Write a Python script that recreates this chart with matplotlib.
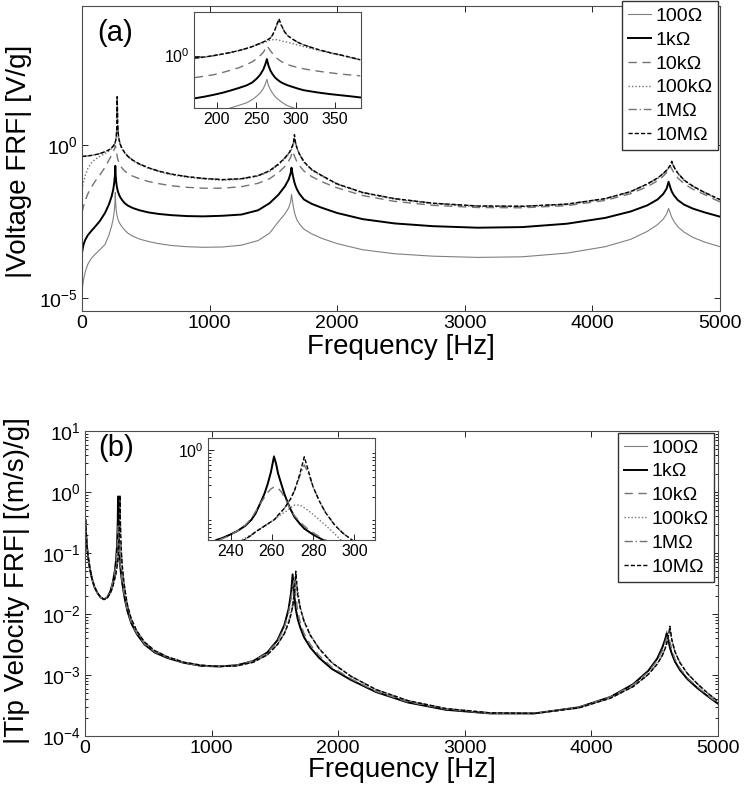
import numpy as np
import matplotlib
matplotlib.use('Agg')
import matplotlib.pyplot as plt
from matplotlib.ticker import LogLocator, NullLocator, NullFormatter, FixedLocator

plt.rcParams['font.family'] = ['Liberation Sans', 'DejaVu Sans']
plt.rcParams['mathtext.fontset'] = 'custom'
plt.rcParams['mathtext.rm'] = 'Liberation Sans'
plt.rcParams['mathtext.it'] = 'Liberation Sans:italic'

labels = ['100\u03a9', '1k\u03a9', '10k\u03a9', '100k\u03a9', '1M\u03a9', '10M\u03a9']

# ---- (a) voltage FRF, log10|V/g| ----
freq_a = [1, 5, 12, 25, 45, 70, 100, 140, 180, 210,
          232, 245, 253, 258, 261, 264, 268, 272, 276, 280,
          285, 292, 302, 315, 335, 360, 400, 450, 520, 600,
          700, 820, 950, 1100, 1250, 1380, 1470, 1540, 1590, 1620,
          1635, 1642, 1650, 1658, 1665, 1672, 1685, 1705, 1740, 1800,
          1880, 2000, 2200, 2450, 2750, 3100, 3450, 3800, 4100, 4300,
          4430, 4510, 4555, 4582, 4597, 4610, 4622, 4640, 4670, 4720,
          4790, 4880, 5000]
volt_100 = [-4.8, -4.6, -4.4, -4.15, -3.9, -3.72, -3.58, -3.42, -3.25, -2.95,
            -2.65, -2.4, -2.15, -1.9, -1.55, -1.9, -2.12, -2.25, -2.33, -2.4,
            -2.46, -2.53, -2.6, -2.68, -2.78, -2.88, -2.98, -3.07, -3.15, -3.22,
            -3.28, -3.32, -3.34, -3.33, -3.27, -3.12, -2.88, -2.5, -2.25, -2.05,
            -1.85, -1.61, -1.85, -2.05, -2.2, -2.3, -2.45, -2.58, -2.75, -2.9,
            -3.05, -3.22, -3.42, -3.55, -3.63, -3.67, -3.65, -3.53, -3.32, -3.08,
            -2.82, -2.6, -2.42, -2.25, -2.07, -2.22, -2.36, -2.5, -2.67, -2.85,
            -3.02, -3.17, -3.32]
volt_1k = [-3.5, -3.4, -3.25, -3.1, -2.95, -2.82, -2.68, -2.48, -2.22, -1.95,
           -1.68, -1.45, -1.22, -0.98, -0.68, -0.98, -1.2, -1.33, -1.42, -1.5,
           -1.56, -1.64, -1.72, -1.8, -1.9, -1.98, -2.06, -2.13, -2.2, -2.25,
           -2.29, -2.32, -2.33, -2.31, -2.27, -2.13, -1.9, -1.62, -1.35, -1.12,
           -0.92, -0.74, -0.95, -1.1, -1.22, -1.32, -1.45, -1.6, -1.78, -1.92,
           -2.05, -2.22, -2.42, -2.56, -2.65, -2.7, -2.68, -2.57, -2.38, -2.17,
           -1.97, -1.78, -1.6, -1.42, -1.2, -1.38, -1.52, -1.65, -1.8, -1.95,
           -2.08, -2.2, -2.34]
volt_10k = [-2.2, -2.12, -2.0, -1.82, -1.6, -1.4, -1.2, -0.98, -0.73, -0.5,
            -0.33, -0.22, -0.14, -0.08, -0.02, -0.06, -0.17, -0.28, -0.38, -0.45,
            -0.52, -0.6, -0.68, -0.76, -0.85, -0.93, -1.02, -1.1, -1.19, -1.26,
            -1.33, -1.38, -1.41, -1.41, -1.36, -1.25, -1.1, -0.9, -0.7, -0.52,
            -0.4, -0.32, -0.2, -0.28, -0.36, -0.43, -0.55, -0.68, -0.85, -1.03,
            -1.2, -1.4, -1.65, -1.84, -1.97, -2.04, -2.05, -1.98, -1.81, -1.59,
            -1.36, -1.17, -1.02, -0.9, -0.8, -0.69, -0.78, -0.92, -1.08, -1.27,
            -1.45, -1.62, -1.86]
volt_100k = [-1.45, -1.35, -1.2, -1.0, -0.77, -0.6, -0.48, -0.37, -0.28, -0.2,
             -0.12, -0.06, -0.01, 0.04, 0.07, 0.12, 0.2, 0.3, 0.38, 0.35,
             0.25, 0.1, -0.03, -0.14, -0.27, -0.39, -0.52, -0.64, -0.76, -0.87,
             -0.97, -1.05, -1.11, -1.15, -1.12, -1.02, -0.87, -0.65, -0.45, -0.3,
             -0.2, -0.14, -0.06, 0.05, 0.22, 0.05, -0.13, -0.33, -0.57, -0.82,
             -1.02, -1.29, -1.57, -1.77, -1.92, -2.01, -2.02, -1.95, -1.77, -1.54,
             -1.29, -1.1, -0.95, -0.84, -0.76, -0.69, -0.58, -0.74, -0.94, -1.17,
             -1.37, -1.57, -1.8]
volt_1M = [-0.37, -0.37, -0.37, -0.365, -0.355, -0.34, -0.32, -0.28, -0.22, -0.16,
           -0.09, -0.03, 0.02, 0.07, 0.1, 0.15, 0.25, 0.5, 1.5, 0.65,
           0.35, 0.15, 0.0, -0.12, -0.25, -0.37, -0.5, -0.62, -0.74, -0.85,
           -0.95, -1.03, -1.09, -1.13, -1.1, -1.0, -0.84, -0.62, -0.42, -0.27,
           -0.17, -0.1, -0.02, 0.1, 0.3, 0.1, -0.1, -0.3, -0.55, -0.8,
           -1.0, -1.27, -1.55, -1.75, -1.9, -1.99, -2.0, -1.93, -1.75, -1.52,
           -1.27, -1.08, -0.93, -0.82, -0.74, -0.66, -0.56, -0.72, -0.92, -1.15,
           -1.35, -1.55, -1.78]
volt_10M = [-0.37, -0.37, -0.37, -0.365, -0.355, -0.34, -0.32, -0.28, -0.22, -0.16,
            -0.09, -0.03, 0.02, 0.07, 0.1, 0.15, 0.25, 0.5, 1.58, 0.65,
            0.35, 0.15, 0.0, -0.12, -0.25, -0.37, -0.5, -0.62, -0.74, -0.85,
            -0.95, -1.03, -1.09, -1.13, -1.1, -1.0, -0.84, -0.62, -0.42, -0.27,
            -0.17, -0.1, -0.02, 0.1, 0.34, 0.1, -0.1, -0.3, -0.55, -0.8,
            -1.0, -1.27, -1.55, -1.75, -1.9, -1.99, -2.0, -1.93, -1.75, -1.52,
            -1.27, -1.08, -0.93, -0.82, -0.74, -0.66, -0.53, -0.72, -0.92, -1.15,
            -1.35, -1.55, -1.78]

# inset of (a): first mode
freq_ia = [172, 185, 196, 207, 217, 228, 238, 245, 251, 255,
           259, 261.5, 263.5, 265.5, 268, 271, 274, 276.5, 279, 281,
           283, 286, 290, 296, 303, 310, 320, 331, 344, 357,
           370, 382]
ins_volt_100 = [-2.9, -2.77, -2.65, -2.52, -2.38, -2.26, -2.14, -2.0, -1.83, -1.7,
                -1.5, -1.3, -1.08, -1.35, -1.55, -1.72, -1.86, -1.95, -2.02, -2.08,
                -2.13, -2.2, -2.28, -2.36, -2.45, -2.53, -2.62, -2.7, -2.76, -2.82,
                -2.86, -2.9]
ins_volt_1k = [-1.94, -1.86, -1.78, -1.69, -1.59, -1.47, -1.35, -1.22, -1.03, -0.87,
               -0.63, -0.4, -0.16, -0.45, -0.68, -0.86, -1.0, -1.08, -1.15, -1.2,
               -1.24, -1.29, -1.35, -1.42, -1.5, -1.57, -1.63, -1.69, -1.75, -1.8,
               -1.85, -1.9]
ins_volt_10k = [-1.0, -0.93, -0.87, -0.77, -0.67, -0.55, -0.4, -0.28, -0.13, 0.0,
                0.15, 0.3, 0.44, 0.35, 0.22, 0.08, -0.05, -0.13, -0.2, -0.25,
                -0.29, -0.35, -0.41, -0.48, -0.54, -0.6, -0.66, -0.72, -0.78, -0.84,
                -0.88, -0.92]
ins_volt_100k = [-0.12, -0.07, -0.01, 0.06, 0.13, 0.22, 0.32, 0.4, 0.48, 0.53,
                 0.58, 0.61, 0.64, 0.67, 0.7, 0.72, 0.73, 0.72, 0.7, 0.68,
                 0.66, 0.63, 0.6, 0.55, 0.48, 0.41, 0.32, 0.22, 0.11, 0.01,
                 -0.1, -0.2]
ins_volt_1M = [-0.11, -0.06, 0.0, 0.07, 0.14, 0.23, 0.33, 0.41, 0.5, 0.56,
               0.62, 0.66, 0.7, 0.74, 0.8, 0.95, 1.2, 1.42, 1.6, 1.42,
               1.28, 1.08, 0.9, 0.75, 0.6, 0.49, 0.37, 0.25, 0.13, 0.03,
               -0.08, -0.19]
ins_volt_10M = [-0.11, -0.06, 0.0, 0.07, 0.14, 0.23, 0.33, 0.41, 0.5, 0.56,
                0.62, 0.66, 0.7, 0.74, 0.8, 0.95, 1.2, 1.45, 1.67, 1.45,
                1.3, 1.08, 0.9, 0.75, 0.6, 0.49, 0.37, 0.25, 0.13, 0.03,
                -0.08, -0.19]

# ---- (b) tip velocity FRF, log10|(m/s)/g| ----
freq_b = [4.5, 8, 15, 25, 38, 55, 75, 100, 125, 150,
          175, 200, 220, 235, 245, 252, 256, 259, 261, 263,
          266, 269, 272, 274, 276, 278, 281, 285, 292, 302,
          315, 335, 365, 410, 470, 550, 650, 780, 920, 1060,
          1200, 1330, 1440, 1520, 1575, 1608, 1628, 1640, 1652, 1665,
          1680, 1700, 1730, 1780, 1850, 1950, 2100, 2300, 2550, 2850,
          3200, 3550, 3900, 4150, 4330, 4450, 4520, 4560, 4582, 4595,
          4608, 4620, 4635, 4660, 4700, 4760, 4840, 4920, 5000]
vel_100 = [-0.46, -0.65, -0.88, -1.07, -1.25, -1.42, -1.56, -1.66, -1.73, -1.76,
           -1.73, -1.63, -1.48, -1.3, -1.12, -0.92, -0.7, -0.45, -0.06, -0.35,
           -0.65, -0.88, -1.02, -1.1, -1.16, -1.21, -1.27, -1.35, -1.46, -1.6,
           -1.76, -1.95, -2.15, -2.33, -2.5, -2.63, -2.72, -2.8, -2.85, -2.86,
           -2.84, -2.77, -2.63, -2.43, -2.18, -1.92, -1.65, -1.4, -1.68, -1.92,
           -2.08, -2.22, -2.38, -2.55, -2.72, -2.9, -3.08, -3.28, -3.45, -3.57,
           -3.63, -3.63, -3.53, -3.36, -3.15, -2.93, -2.73, -2.55, -2.42, -2.28,
           -2.42, -2.55, -2.65, -2.78, -2.92, -3.07, -3.22, -3.35, -3.47]
vel_1k = [-0.46, -0.65, -0.88, -1.07, -1.25, -1.42, -1.56, -1.66, -1.73, -1.76,
          -1.73, -1.63, -1.48, -1.3, -1.12, -0.92, -0.7, -0.45, -0.08, -0.35,
          -0.65, -0.88, -1.02, -1.1, -1.16, -1.21, -1.27, -1.35, -1.46, -1.6,
          -1.76, -1.95, -2.15, -2.33, -2.5, -2.63, -2.72, -2.8, -2.85, -2.86,
          -2.84, -2.77, -2.63, -2.43, -2.18, -1.92, -1.65, -1.35, -1.68, -1.92,
          -2.08, -2.22, -2.38, -2.55, -2.72, -2.9, -3.08, -3.28, -3.45, -3.57,
          -3.63, -3.63, -3.53, -3.36, -3.15, -2.93, -2.73, -2.55, -2.42, -2.32,
          -2.42, -2.55, -2.65, -2.78, -2.92, -3.07, -3.22, -3.35, -3.47]
vel_10k = [-0.46, -0.65, -0.88, -1.07, -1.25, -1.42, -1.56, -1.66, -1.73, -1.76,
           -1.73, -1.63, -1.48, -1.32, -1.15, -0.96, -0.8, -0.65, -0.56, -0.57,
           -0.68, -0.86, -1.0, -1.08, -1.14, -1.19, -1.25, -1.33, -1.44, -1.58,
           -1.74, -1.93, -2.14, -2.32, -2.49, -2.62, -2.71, -2.8, -2.85, -2.86,
           -2.84, -2.77, -2.64, -2.45, -2.22, -1.98, -1.75, -1.55, -1.45, -1.7,
           -1.95, -2.14, -2.32, -2.5, -2.68, -2.87, -3.06, -3.27, -3.44, -3.56,
           -3.63, -3.63, -3.53, -3.36, -3.16, -2.95, -2.76, -2.6, -2.47, -2.39,
           -2.36, -2.45, -2.58, -2.74, -2.89, -3.05, -3.2, -3.34, -3.46]
vel_100k = [-0.46, -0.65, -0.88, -1.07, -1.25, -1.42, -1.56, -1.66, -1.73, -1.76,
            -1.74, -1.66, -1.55, -1.42, -1.32, -1.23, -1.16, -1.1, -1.05, -1.0,
            -0.93, -0.86, -0.81, -0.82, -0.86, -0.9, -0.97, -1.07, -1.22, -1.4,
            -1.6, -1.85, -2.08, -2.28, -2.46, -2.6, -2.7, -2.79, -2.84, -2.86,
            -2.85, -2.79, -2.67, -2.5, -2.3, -2.12, -1.95, -1.82, -1.62, -1.42,
            -1.6, -1.88, -2.1, -2.34, -2.56, -2.79, -3.02, -3.24, -3.42, -3.55,
            -3.62, -3.63, -3.54, -3.38, -3.19, -2.99, -2.82, -2.67, -2.56, -2.47,
            -2.36, -2.26, -2.42, -2.62, -2.8, -2.98, -3.15, -3.3, -3.43]
vel_1M = [-0.46, -0.65, -0.88, -1.07, -1.25, -1.42, -1.56, -1.66, -1.73, -1.76,
          -1.74, -1.66, -1.55, -1.42, -1.33, -1.24, -1.18, -1.13, -1.09, -1.04,
          -0.95, -0.8, -0.55, -0.35, -0.12, -0.32, -0.62, -0.88, -1.15, -1.38,
          -1.6, -1.85, -2.08, -2.28, -2.46, -2.6, -2.7, -2.79, -2.84, -2.86,
          -2.85, -2.79, -2.67, -2.5, -2.32, -2.15, -2.0, -1.88, -1.7, -1.35,
          -1.68, -1.9, -2.12, -2.35, -2.57, -2.8, -3.02, -3.24, -3.42, -3.55,
          -3.62, -3.63, -3.54, -3.38, -3.19, -2.99, -2.82, -2.68, -2.57, -2.48,
          -2.36, -2.25, -2.42, -2.62, -2.8, -2.98, -3.15, -3.3, -3.43]
vel_10M = [-0.46, -0.65, -0.88, -1.07, -1.25, -1.42, -1.56, -1.66, -1.73, -1.76,
           -1.74, -1.66, -1.55, -1.42, -1.33, -1.24, -1.18, -1.13, -1.09, -1.04,
           -0.95, -0.8, -0.55, -0.35, -0.05, -0.32, -0.62, -0.88, -1.15, -1.38,
           -1.6, -1.85, -2.08, -2.28, -2.46, -2.6, -2.7, -2.79, -2.84, -2.86,
           -2.85, -2.79, -2.67, -2.5, -2.32, -2.15, -2.0, -1.88, -1.7, -1.3,
           -1.68, -1.9, -2.12, -2.35, -2.57, -2.8, -3.02, -3.24, -3.42, -3.55,
           -3.62, -3.63, -3.54, -3.38, -3.19, -2.99, -2.82, -2.68, -2.57, -2.48,
           -2.36, -2.2, -2.42, -2.62, -2.8, -2.98, -3.15, -3.3, -3.43]

# inset of (b)
freq_ib = [229, 233, 236, 239, 243, 247, 250, 252, 255, 256.5,
           258, 259.5, 261, 262, 263, 264.5, 266, 267.5, 269, 271,
           273.6, 275.7, 277.6, 280, 283, 286, 290.5, 294.5, 299.3, 305,
           310]
ins_vel_100 = [-1.45, -1.34, -1.31, -1.27, -1.21, -1.13, -1.04, -0.95, -0.75, -0.64,
               -0.5, -0.33, -0.08, -0.2, -0.35, -0.5, -0.65, -0.77, -0.88, -1.0,
               -1.1, -1.17, -1.21, -1.26, -1.31, -1.36, -1.42, -1.47, -1.52, -1.57,
               -1.6]
ins_vel_1k = [-1.45, -1.34, -1.31, -1.27, -1.21, -1.13, -1.04, -0.95, -0.75, -0.64,
              -0.5, -0.33, -0.1, -0.2, -0.35, -0.5, -0.65, -0.77, -0.88, -1.0,
              -1.1, -1.17, -1.21, -1.26, -1.31, -1.36, -1.42, -1.47, -1.52, -1.57,
              -1.6]
ins_vel_10k = [-1.45, -1.35, -1.32, -1.28, -1.21, -1.12, -1.02, -0.92, -0.77, -0.7,
               -0.63, -0.58, -0.55, -0.55, -0.57, -0.62, -0.7, -0.79, -0.88, -0.98,
               -1.07, -1.13, -1.18, -1.23, -1.29, -1.34, -1.4, -1.45, -1.5, -1.55,
               -1.6]
ins_vel_100k = [-1.6, -1.52, -1.48, -1.44, -1.38, -1.31, -1.26, -1.22, -1.16, -1.13,
                -1.1, -1.07, -1.04, -1.02, -0.99, -0.96, -0.93, -0.9, -0.86, -0.82,
                -0.82, -0.86, -0.9, -0.96, -1.04, -1.12, -1.25, -1.37, -1.47, -1.55,
                -1.6]
ins_vel_1M = [-1.6, -1.53, -1.49, -1.45, -1.39, -1.33, -1.27, -1.22, -1.16, -1.13,
              -1.1, -1.07, -1.04, -1.01, -0.97, -0.92, -0.87, -0.8, -0.73, -0.6,
              -0.38, -0.22, -0.34, -0.55, -0.76, -0.93, -1.12, -1.24, -1.35, -1.45,
              -1.52]
ins_vel_10M = [-1.6, -1.53, -1.49, -1.45, -1.39, -1.33, -1.27, -1.22, -1.16, -1.13,
               -1.1, -1.07, -1.04, -1.01, -0.97, -0.92, -0.87, -0.8, -0.73, -0.6,
               -0.35, -0.1, -0.3, -0.55, -0.76, -0.93, -1.12, -1.24, -1.35, -1.45,
               -1.52]

styles = [
    dict(color='0.5', lw=0.8, ls='-'),
    dict(color='black', lw=1.4, ls='-'),
    dict(color='0.45', lw=1.0, ls=(0, (6, 4))),
    dict(color='0.45', lw=1.0, ls=(0, (1, 1.5))),
    dict(color='0.45', lw=1.0, ls=(0, (6, 2, 1, 2))),
    dict(color='black', lw=1.0, ls=(0, (3, 1.5))),
]

W, H = 747, 792


def box(l, t, r, b):
    return [l / W, 1 - b / H, (r - l) / W, (b - t) / H]


def draw(ax, freq, curves):
    for vals, st, lab in zip(curves, styles, labels):
        ax.plot(freq, 10.0 ** np.array(vals), label=lab, **st)
    ax.set_yscale('log')


def frame(ax, size):
    ax.tick_params(which='both', direction='in', top=True, right=True,
                   labelsize=size, width=0.6, pad=3)
    ax.tick_params(which='major', length=4)
    ax.tick_params(which='minor', length=2.2)
    for s in ax.spines.values():
        s.set_linewidth(0.8)
        s.set_color('0.3')


def legend(ax, anchor):
    ax.legend(loc='upper right', bbox_to_anchor=anchor, borderaxespad=0,
              fontsize=14, handlelength=1.2, handletextpad=0.2, labelspacing=0.32,
              borderpad=0.3, fancybox=False, framealpha=1, edgecolor='0.2')


fig = plt.figure(figsize=(W / 100, H / 100), dpi=100)

# panel (a)
ax1 = fig.add_axes(box(82, 6, 720, 311))
draw(ax1, freq_a, [volt_100, volt_1k, volt_10k, volt_100k, volt_1M, volt_10M])
ax1.set_xlim(0, 5000)
ax1.set_ylim(10 ** -5.42, 10 ** 4.54)
ax1.yaxis.set_major_locator(FixedLocator([1e-5, 1e0]))
ax1.yaxis.set_minor_locator(NullLocator())
ax1.set_xticks([0, 1000, 2000, 3000, 4000, 5000])
frame(ax1, 14)
ax1.set_xlabel('Frequency [Hz]', fontsize=20, labelpad=1)
ax1.set_ylabel('|Voltage FRF| [V/g]', fontsize=20)
ax1.yaxis.set_label_coords(-0.078, 0.49)
ax1.text(0.024, 0.91, '(a)', transform=ax1.transAxes, fontsize=21, va='center')
legend(ax1, (0.997, 1.015))

ia = fig.add_axes(box(194, 12, 361, 108))
draw(ia, freq_ia, [ins_volt_100, ins_volt_1k, ins_volt_10k, ins_volt_100k,
                   ins_volt_1M, ins_volt_10M])
ia.set_xlim(171, 383)
ia.set_ylim(10 ** -2.38, 10 ** 1.98)
ia.set_xticks([200, 250, 300, 350])
ia.yaxis.set_major_locator(FixedLocator([1.0]))
ia.yaxis.set_minor_locator(NullLocator())
frame(ia, 11.5)
ia.tick_params(top=False, right=False)

# panel (b)
ax2 = fig.add_axes(box(85, 431, 718, 736))
draw(ax2, freq_b, [vel_100, vel_1k, vel_10k, vel_100k, vel_1M, vel_10M])
ax2.set_xlim(0, 5000)
ax2.set_ylim(1e-4, 1e1)
ax2.yaxis.set_major_locator(LogLocator(base=10, numticks=10))
ax2.yaxis.set_minor_locator(LogLocator(base=10, subs=np.arange(2, 10), numticks=10))
ax2.yaxis.set_minor_formatter(NullFormatter())
ax2.set_xticks([0, 1000, 2000, 3000, 4000, 5000])
frame(ax2, 14)
ax2.set_xlabel('Frequency [Hz]', fontsize=20, labelpad=0)
ax2.set_ylabel('|Tip Velocity FRF| [(m/s)/g]', fontsize=20)
ax2.yaxis.set_label_coords(-0.087, 0.51)
ax2.text(0.021, 0.943, '(b)', transform=ax2.transAxes, fontsize=21, va='center')
legend(ax2, (0.994, 0.993))

ib = fig.add_axes(box(208, 438, 375, 540))
draw(ib, freq_ib, [ins_vel_100, ins_vel_1k, ins_vel_10k, ins_vel_100k,
                   ins_vel_1M, ins_vel_10M])
ib.set_xlim(229, 310)
ib.set_ylim(10 ** -1.34, 10 ** 0.18)
ib.set_xticks([240, 260, 280, 300])
ib.yaxis.set_major_locator(FixedLocator([1.0]))
ib.yaxis.set_minor_locator(LogLocator(base=10, subs=np.arange(2, 10), numticks=10))
ib.yaxis.set_minor_formatter(NullFormatter())
frame(ib, 11.5)
ib.tick_params(top=False, right=False)

fig.savefig('out.png', dpi=100)
